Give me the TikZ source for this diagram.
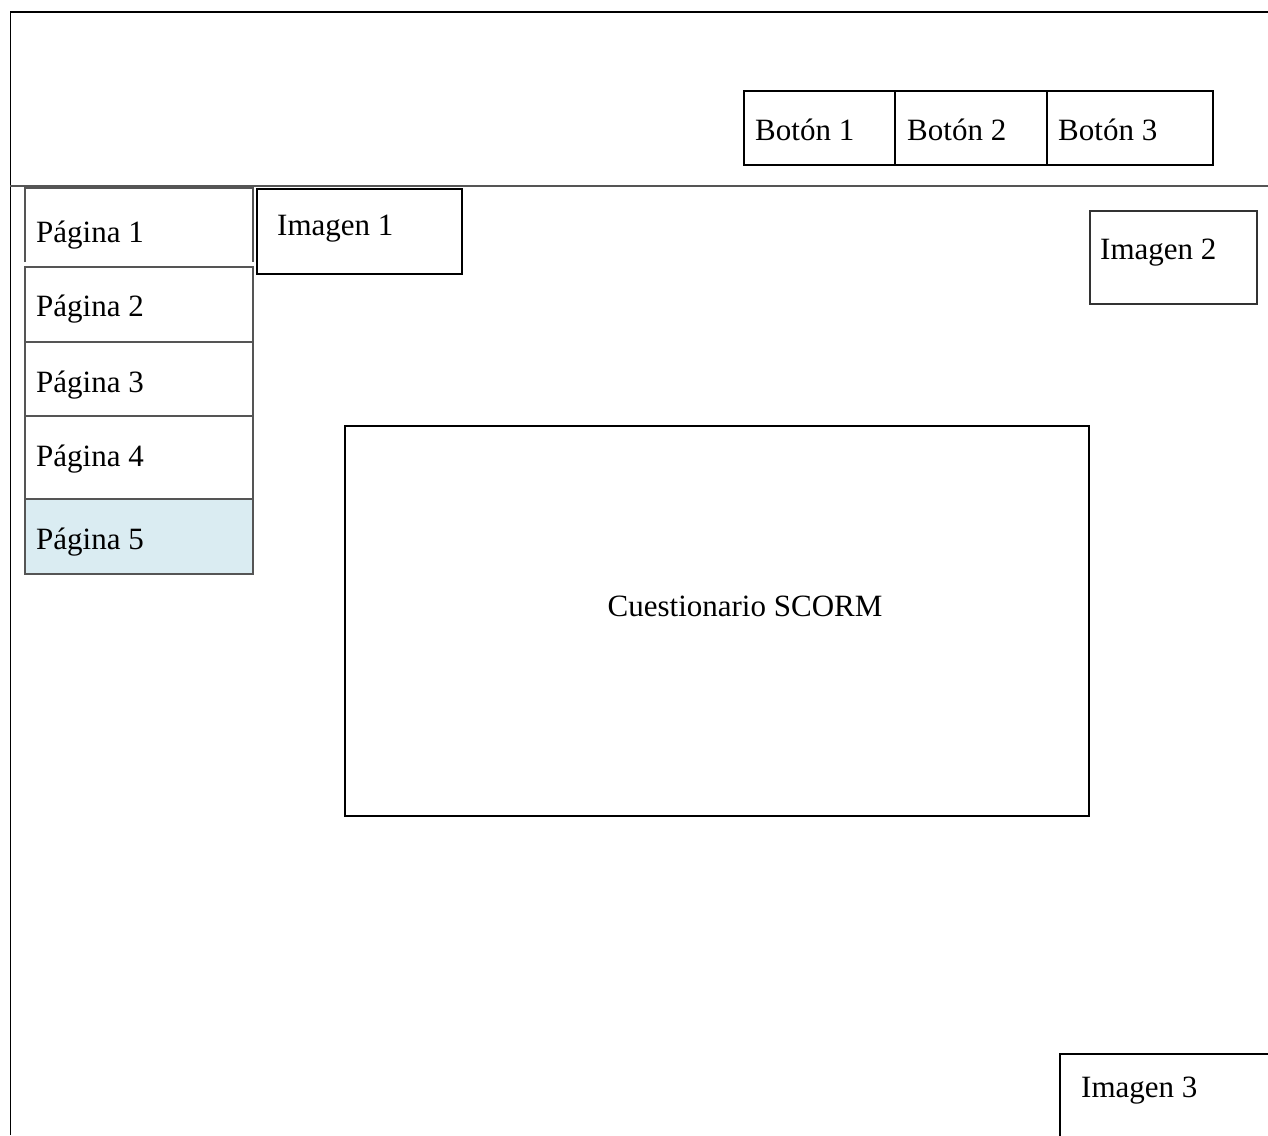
\documentclass[tikz,border=0pt]{standalone}
\usepackage{fontspec}
\setmainfont{Liberation Serif}
\definecolor{pagefill}{RGB}{218,236,242}
\definecolor{linegray}{RGB}{85,85,85}
\tikzset{
  box/.style={draw, line width=1.6pt, inner sep=0pt},
  pagebox/.style={draw=linegray, line width=1.3pt, inner sep=0pt},
  txt/.style={anchor=base west, inner sep=0pt, font=\fontsize{31}{36}\selectfont},
}
\begin{document}
\begin{tikzpicture}[x=1pt, y=-1pt]
      \useasboundingbox (0,0) rectangle (1268,1135);
      % outer frame and header line
      \coordinate (frameTL) at (10.5,12);
      \draw[line width=1.3pt] (10.5,1135) -- (frameTL) -- (1268,12);
      \draw[linegray, line width=1.8pt] (10,186) -- (1268,186);
      % buttons
      \draw[box] (744,91) rectangle (895,165) coordinate (btnA);
      \draw[box] (895,91) rectangle (1047,165) coordinate (btnB);
      \draw[box] (1047,91) rectangle (1213,165) coordinate (btnC);
      \node[txt] (boton1) at (755,140) {Botón 1};
      \node[txt] (boton2) at (907,140) {Botón 2};
      \node[txt] (boton3) at (1058,140) {Botón 3};
      % side menu
      \draw[pagebox] (25,262) -- (25,188) -- (253,188) -- (253,262);
      \draw[pagebox] (25,267) rectangle (253,342);
      \draw[pagebox] (25,342) rectangle (253,416);
      \draw[pagebox] (25,416) rectangle (253,499);
      \draw[pagebox, fill=pagefill] (25,499) rectangle (253,574);
      \node[txt] (pag1) at (36,242) {Página 1};
      \node[txt] (pag2) at (36,316) {Página 2};
      \node[txt] (pag3) at (36,392) {Página 3};
      \node[txt] (pag4) at (36,466) {Página 4};
      \node[txt] (pag5) at (36,549) {Página 5};
      % images
      \draw[box] (257,189) rectangle (462,274);
      \node[txt] (img1) at (277,235) {Imagen 1};
      \draw[pagebox, draw=black!80] (1090,211) rectangle (1257,304);
      \node[txt] (img2) at (1100,259) {Imagen 2};
      \draw[box] (1060,1140) -- (1060,1054) -- (1270,1054);
      \node[txt] (img3) at (1081,1097) {Imagen 3};
      % quiz area
      \draw[box] (345,426) rectangle (1089,816);
      \node[txt, anchor=base] (quiz) at (745,616) {Cuestionario SCORM};
    \end{tikzpicture}
\end{document}
